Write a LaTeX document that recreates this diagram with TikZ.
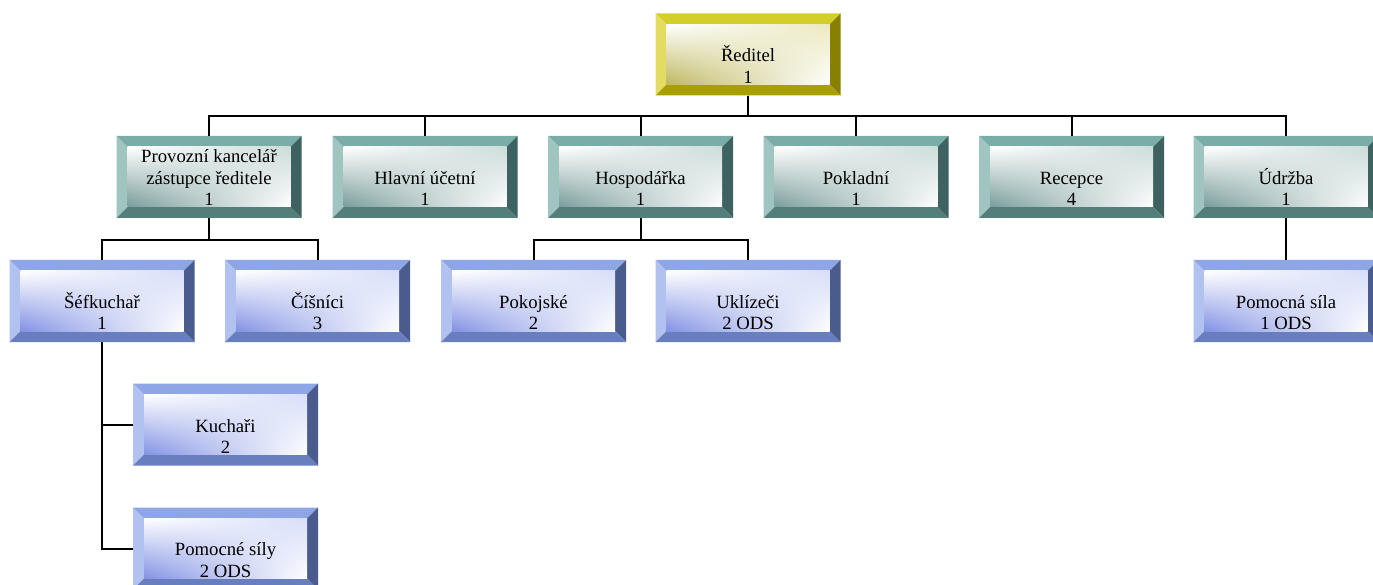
\documentclass[tikz,border=0pt]{standalone}
\usepackage{fontspec}
\setmainfont{Liberation Serif}
\usetikzlibrary{positioning, shadings}

\definecolor{ylwT}{RGB}{212,206,42}
\definecolor{ylwL}{RGB}{226,220,96}
\definecolor{ylwR}{RGB}{136,128,0}
\definecolor{ylwB}{RGB}{168,160,0}
\definecolor{ylwF}{RGB}{190,184,96}
\definecolor{ylwG}{RGB}{236,233,192}
\definecolor{tealT}{RGB}{122,172,168}
\definecolor{tealL}{RGB}{160,196,192}
\definecolor{tealR}{RGB}{62,98,96}
\definecolor{tealB}{RGB}{84,126,122}
\definecolor{tealF}{RGB}{120,156,154}
\definecolor{tealG}{RGB}{205,220,218}
\definecolor{bluT}{RGB}{142,166,230}
\definecolor{bluL}{RGB}{178,194,240}
\definecolor{bluR}{RGB}{74,92,142}
\definecolor{bluB}{RGB}{104,126,190}
\definecolor{bluF}{RGB}{130,146,228}
\definecolor{bluG}{RGB}{215,222,248}

\tikzset{
  boxtext/.style={align=center, inner sep=0pt, font=\fontsize{18.7}{21.5}\selectfont},
  bevel/.style={fill=white, path picture={
      \coordinate (pNW) at (path picture bounding box.north west);
      \coordinate (pNE) at (path picture bounding box.north east);
      \coordinate (pSW) at (path picture bounding box.south west);
      \coordinate (pSE) at (path picture bounding box.south east);
      \coordinate (iNW) at ([xshift=11pt,yshift=-11pt]pNW);
      \coordinate (iNE) at ([xshift=-11pt,yshift=-11pt]pNE);
      \coordinate (iSW) at ([xshift=11pt,yshift=11pt]pSW);
      \coordinate (iSE) at ([xshift=-11pt,yshift=11pt]pSE);
      \fill[#1T] (pNW) -- (pNE) -- (iNE) -- (iNW) -- cycle;
      \fill[#1L] (pNW) -- (iNW) -- (iSW) -- (pSW) -- cycle;
      \fill[#1R] (pNE) -- (pSE) -- (iSE) -- (iNE) -- cycle;
      \fill[#1B] (pSW) -- (pSE) -- (iSE) -- (iSW) -- cycle;
      \shade[upper left=white, lower right=white, lower left=#1F, upper right=#1G] (iNW) rectangle (iSE);
  }},
  unit/.style 2 args={rectangle, minimum width=185pt, minimum height=82pt, bevel=#1,
      label={[boxtext, anchor=south, yshift=12pt]south:{#2}}},
  link/.style={line width=2pt, black},
}

\begin{document}
\begin{tikzpicture}[x=1pt, y=-1pt]
\useasboundingbox (0,0) rectangle (1373,585);

%Boxes:
\node (red) [unit={ylw}{Ředitel\\1}] at (748,54.5) {};
\node (prov) [unit={teal}{Provozní kancelář\\zástupce ředitele\\1}] at (209,177) {};
\node (ucet) [unit={teal}{Hlavní účetní\\1}] at (425,177) {};
\node (hosp) [unit={teal}{Hospodářka\\1}] at (640.5,177) {};
\node (pokl) [unit={teal}{Pokladní\\1}] at (856,177) {};
\node (rec) [unit={teal}{Recepce\\4}] at (1071.5,177) {};
\node (udr) [unit={teal}{Údržba\\1}] at (1286,177) {};
\node (sef) [unit={blu}{Šéfkuchař\\1}] at (102,301) {};
\node (cis) [unit={blu}{Číšníci\\3}] at (317.5,301) {};
\node (pokoj) [unit={blu}{Pokojské\\2}] at (533.5,301) {};
\node (ukl) [unit={blu}{Uklízeči\\2 ODS}] at (748,301) {};
\node (psila) [unit={blu}{Pomocná síla\\1 ODS}] at (1286,301) {};
\node (kuch) [unit={blu}{Kuchaři\\2}] at (225.5,424.5) {};
\node (psily) [unit={blu}{Pomocné síly\\2 ODS}] at (225.5,548.5) {};

%Lines:
\foreach \n in {prov,ucet,hosp,pokl,rec,udr}
  \draw[link] (red.south) -- ++(0,20) -| (\n.north);
\foreach \n in {sef,cis}
  \draw[link] (prov.south) -- ++(0,22) -| (\n.north);
\foreach \n in {pokoj,ukl}
  \draw[link] (hosp.south) -- ++(0,22) -| (\n.north);
\draw[link] (udr.south) -- (psila.north);
\draw[link] (sef.south) |- (kuch.west);
\draw[link] (sef.south) |- (psily.west);

\end{tikzpicture}
\end{document}
